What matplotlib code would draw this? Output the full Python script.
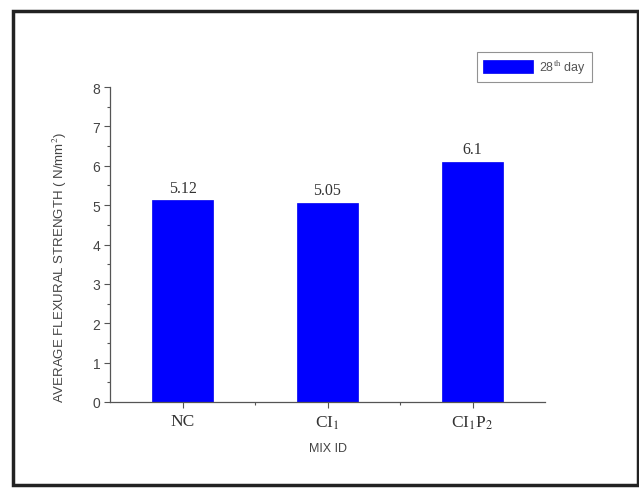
import matplotlib
matplotlib.use("Agg")
import matplotlib.pyplot as plt
from matplotlib.patches import Rectangle
from matplotlib.ticker import MultipleLocator

plt.rcParams['mathtext.fontset'] = 'stix'

categories = ["NC", r"CI$_1$", r"CI$_1$P$_2$"]
values = [5.12, 5.05, 6.1]
value_labels = ["5.12", "5.05", "6.1"]
series_name = r"28$^{\rm th}$ day"
y_label = r"AVERAGE FLEXURAL STRENGTH ( N/mm$^{\rm 2}$)"
x_label = "MIX ID"

fig = plt.figure(figsize=(6.39, 4.89), dpi=100)
# outer frame of the screenshot
fig.patches.append(Rectangle((13/639, 1 - 486/489), (638 - 13)/639, (486 - 12)/489,
                             transform=fig.transFigure, fill=False,
                             edgecolor='#222222', linewidth=2.5))

ax = fig.add_axes([110/639, 1 - 403/489, (545 - 110)/639, (403 - 88)/489])
x = [1, 2, 3]
bars = ax.bar(x, values, width=0.42, color='#0000ff', edgecolor='#0000ee',
              linewidth=0.5, label=series_name)
for xi, v, lab in zip(x, values, value_labels):
    ax.text(xi, v + 0.12, lab, ha='center', va='bottom', family='Liberation Serif',
            fontsize=11.5, color='#333333')

ax.set_xlim(0.5, 3.5)
ax.set_ylim(0, 8)
ax.set_xticks(x)
ax.set_xticklabels(categories, family='Liberation Serif', fontsize=12.5, color='#333333')
ax.set_xticks([1.5, 2.5], minor=True)
ax.yaxis.set_major_locator(MultipleLocator(1))
ax.yaxis.set_minor_locator(MultipleLocator(0.5))
for lab in ax.get_yticklabels():
    lab.set_family('Liberation Sans')
    lab.set_fontsize(10)
    lab.set_color('#444444')
ax.tick_params(axis='both', which='major', direction='out', length=4, width=0.8,
               colors='#555555')
ax.tick_params(axis='both', which='minor', direction='out', length=2.5, width=0.8,
               colors='#555555')
ax.tick_params(axis='x', labelcolor='#333333', pad=4)
ax.tick_params(axis='y', labelcolor='#444444', pad=3)

for s in ['top', 'right']:
    ax.spines[s].set_visible(False)
for s in ['left', 'bottom']:
    ax.spines[s].set_color('#555555')
    ax.spines[s].set_linewidth(0.9)

ax.set_ylabel(y_label, family='Liberation Sans', fontsize=9.5, color='#444444',
              labelpad=12)
ax.yaxis.set_label_coords(-0.095, 0.43)
ax.set_xlabel(x_label, family='Liberation Sans', fontsize=9, color='#444444', labelpad=8)

leg = ax.legend(loc='upper right', bbox_to_anchor=(598/639, 1 - 47/489),
                bbox_transform=fig.transFigure, fancybox=False, frameon=True,
                prop={'family': 'Liberation Sans', 'size': 9},
                handlelength=4.0, handleheight=1.2, borderpad=0.45, handletextpad=0.5)
leg.get_frame().set_edgecolor('#777777')
leg.get_frame().set_linewidth(0.8)
for t in leg.get_texts():
    t.set_color('#555555')

fig.savefig("out.png", dpi=100)
